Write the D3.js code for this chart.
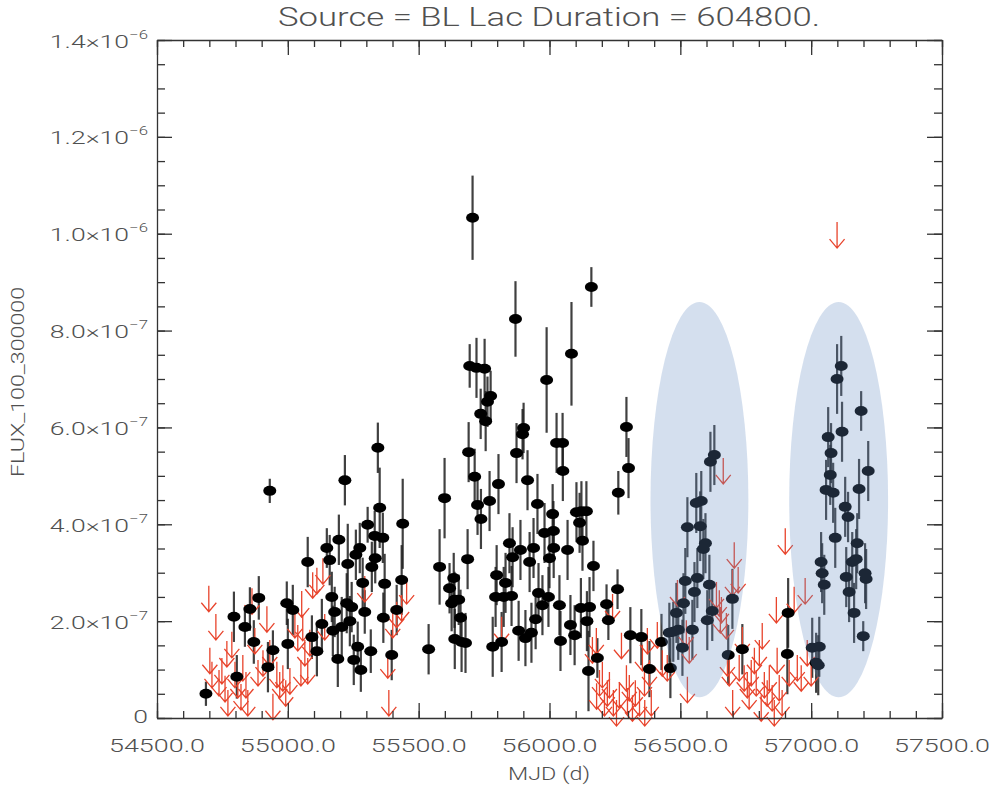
<!DOCTYPE html>
<html><head><meta charset="utf-8">
<script src="https://cdn.jsdelivr.net/npm/d3@7"></script>
<style>body{margin:0;background:#fff}svg{display:block}</style>
</head><body><svg id="c" width="993" height="788"></svg>
<script>
// ---- data (flux in units of 1e-7 ph cm^-2 s^-1) ----
const FLUX_UNIT = 1e-7;
const detMJD = [54687,54794,54805,54836,54855,54889,54870,54931,54924,54943,54996,55019,55000,55076,55092,55111,55130,55149,55160,55168,55172,55179,55191,55195,55206,55218,55225,55229,55237,55244,55252,55260,55267,55275,55279,55286,55294,55305,55317,55321,55332,55334,55344,55351,55363,55365,55370,55397,55416,55435,55439,55538,55580,55599,55618,55626,55637,55634,55653,55660,55638,55664,55679,55687,55691,55695,55706,55714,55721,55725,55737,55738,55752,55756,55763,55775,55771,55783,55794,55798,55805,55817,55825,55832,55847,55855,55859,55870,55874,55882,55889,55897,55901,55908,55916,55924,55931,55939,55947,55954,55958,55973,55981,55989,55996,56000,56012,56015,56016,56027,56050,56051,56038,56042,56069,56080,56084,56096,56103,56115,56122,56141,56126,56120,56143,56153,56149,56160,56168,56183,56218,56225,56263,56260,56294,56302,56309,56351,56382,56428,56462,56458,56473,56492,56485,56508,56512,56519,56527,56546,56554,56561,56580,56565,56576,56596,56588,56603,56611,56615,56630,56622,56699,56683,56737,56909,56912,57004,57031,57019,57027,57038,57042,57050,57057,57065,57076,57073,57084,57092,57099,57115,57118,57130,57141,57134,57145,57157,57164,57172,57176,57183,57191,57199,57206,57210,57218];
const detFlux = [0.50,2.09,0.85,1.88,2.25,2.48,1.57,4.69,1.05,1.40,2.37,2.23,1.53,3.22,1.67,1.38,1.94,3.51,3.26,2.50,1.80,2.19,1.22,3.68,1.88,4.91,2.37,3.18,2.00,2.29,1.20,3.37,1.47,3.51,0.99,2.79,2.19,3.99,1.38,3.12,3.76,3.30,5.58,4.34,3.72,2.07,2.77,1.30,2.23,2.85,4.01,1.42,3.12,4.54,2.68,2.37,2.44,2.89,2.44,2.07,1.63,1.57,1.55,3.28,5.49,7.27,10.33,4.98,7.23,4.40,6.28,4.11,7.21,6.13,6.53,6.65,4.48,1.47,2.50,2.95,4.83,1.57,2.50,2.79,3.61,2.52,3.32,8.24,5.47,1.80,3.47,5.86,5.99,1.65,4.91,3.22,1.76,3.51,2.04,4.42,2.58,2.33,3.82,6.98,2.50,3.30,4.21,3.86,3.51,5.68,5.68,5.10,2.33,1.59,3.47,1.92,7.52,1.71,4.25,4.03,4.27,4.27,3.66,2.27,2.00,2.29,0.97,8.90,3.14,1.24,2.35,2.02,4.65,2.66,6.01,5.16,1.71,1.67,1.01,1.57,1.03,1.76,1.78,1.82,2.17,1.45,2.37,2.83,3.94,1.82,2.60,4.44,4.48,2.89,3.96,3.61,3.49,2.02,2.75,5.29,5.43,2.21,2.46,1.30,1.42,1.32,2.17,1.45,1.47,1.14,1.09,3.22,2.99,2.75,4.71,5.80,5.47,5.02,4.65,3.72,7.00,7.27,5.91,4.36,4.15,2.91,2.60,3.22,2.17,3.28,3.61,4.73,6.34,1.69,2.99,2.87,5.10];
const detErr = [0.25,0.52,0.45,0.41,0.45,0.45,0.45,0.25,0.52,0.41,0.45,0.52,0.52,0.52,0.45,0.52,0.52,0.41,0.52,0.52,0.52,0.52,0.58,0.52,0.62,0.52,0.62,0.83,0.52,0.52,0.52,0.52,0.52,0.52,0.45,0.52,0.45,0.37,0.45,0.52,0.52,0.52,0.52,0.83,0.52,0.52,0.62,0.52,0.52,0.72,0.93,0.52,0.78,0.83,0.52,0.58,0.58,0.52,0.52,0.58,0.62,0.62,0.62,0.62,0.62,0.45,0.87,0.58,0.62,0.62,0.52,0.62,0.62,0.62,0.52,0.52,0.62,0.62,0.62,0.62,0.62,0.62,0.62,0.62,0.62,0.62,0.62,0.78,0.62,0.62,0.62,0.52,0.52,0.58,0.62,0.62,0.62,0.62,0.62,0.62,0.62,0.62,0.62,1.09,0.62,0.62,0.62,0.62,0.62,0.62,0.62,0.62,0.62,0.62,0.62,0.62,1.07,0.62,0.62,0.62,0.62,0.62,0.62,0.62,0.62,0.62,0.83,0.41,0.52,0.41,0.41,0.41,0.45,0.41,0.62,0.62,0.58,0.58,0.58,0.58,0.62,0.62,0.62,0.62,0.62,0.58,0.62,0.68,0.62,0.62,0.62,0.62,0.62,0.62,0.72,0.62,0.62,0.62,0.62,0.62,0.62,0.62,0.62,0.62,0.52,0.83,0.72,0.62,0.62,0.62,0.62,0.62,0.62,0.62,0.62,0.62,0.62,0.62,0.62,0.62,0.72,0.62,0.62,0.62,0.52,0.62,0.62,0.62,0.62,0.62,0.62,0.62,0.41,0.31,0.62,0.62,0.62];
const ulMJD = [54698,54702,54710,54725,54737,54748,54760,54767,54771,54786,54798,54809,54821,54828,54840,54847,54863,54874,54886,54905,54920,54931,54943,54958,54969,54981,54992,55008,55027,55038,55053,55057,55065,55076,55084,55095,55111,55134,55141,55050,55294,55382,55386,55401,55416,55435,55454,55817,56164,56179,56180,56191,56202,56210,56221,56229,56241,56244,56256,56267,56275,56294,56298,56305,56317,56328,56344,56355,56363,56364,56374,56382,56389,56412,56431,56450,56489,56523,56527,56534,56638,56649,56653,56657,56664,56676,56680,56687,56699,56700,56706,56721,56725,56737,56744,56756,56763,56771,56783,56790,56802,56809,56813,56821,56832,56840,56851,56859,56867,56870,56878,56889,56901,56916,56935,56947,56962,56977,56985,57000,57099];
const ulFlux = [2.73,1.45,1.16,2.15,0.99,1.24,0.87,1.59,0.58,1.78,1.16,0.95,0.70,1.30,0.95,0.58,2.68,1.86,1.20,1.40,2.31,1.61,0.50,1.16,0.95,1.09,0.78,1.03,2.19,1.92,2.62,2.13,1.61,1.24,1.82,3.01,3.10,3.30,2.15,1.20,2.93,1.36,0.58,2.19,2.40,2.54,2.89,2.09,1.67,1.86,0.72,0.99,1.16,0.58,0.78,0.95,2.56,0.58,0.37,0.74,1.76,1.09,0.62,0.89,0.47,0.78,0.58,1.51,0.99,0.37,1.86,1.20,0.58,1.98,1.40,1.30,2.85,2.02,0.85,1.67,2.81,2.64,2.29,2.50,5.37,2.17,1.40,1.20,3.06,0.58,3.63,3.12,1.30,1.88,1.09,0.95,0.72,1.20,1.45,0.99,1.61,0.47,1.96,0.95,0.78,1.09,0.68,0.37,2.50,1.45,0.89,0.58,3.92,1.20,2.71,1.30,1.09,2.89,1.61,1.20,10.24];
// highlighted intervals (MJD centre, half width; flux centre, half height)
const hlMJD = [56573, 57105];
const hlHalfMJD = [187, 189];
const hlFlux = [4.51, 4.51];
const hlHalfFlux = [4.08, 4.08];
// axis ticks
const xTickValues = [54500,55000,55500,56000,56500,57000,57500];
const xTickLabels = ["54500.0","55000.0","55500.0","56000.0","56500.0","57000.0","57500.0"];
const yTickValues = [0,2,4,6,8,10,12,14];
const yTickMant = ["0","2.0","4.0","6.0","8.0","1.0","1.2","1.4"];
const yTickExp = ["","\u22127","\u22127","\u22127","\u22127","\u22126","\u22126","\u22126"];
const title = "Source = BL Lac Duration = 604800.";
const xTitle = "MJD (d)";
const yTitle = "FLUX_100_300000";

// ---- drawing ----
const svg = d3.select("#c");
const L=157,R=942,T=40,B=718;
const x = d3.scaleLinear().domain([54500,57500]).range([L,R]);
const y = d3.scaleLinear().domain([0,14*FLUX_UNIT]).range([B,T]);
const TXT = "#505050", AX = "#333";
const font = "Roboto, 'DejaVu Sans', sans-serif";
const FW = 300;

const plot = svg.append("g");
const det = detMJD.map((m,i)=>({m, f:detFlux[i]*FLUX_UNIT, e:detErr[i]*FLUX_UNIT}));
plot.append("g").selectAll("line").data(det).join("line")
  .attr("x1",d=>x(d.m)).attr("x2",d=>x(d.m))
  .attr("y1",d=>y(d.f-d.e)).attr("y2",d=>y(d.f+d.e))
  .attr("stroke","#1e1e1e").attr("stroke-width",2.2).attr("stroke-opacity",0.85);
const ul = ulMJD.map((m,i)=>({m, f:ulFlux[i]*FLUX_UNIT}));
plot.append("g").selectAll("path").data(ul).join("path")
  .attr("d",d=>{const X=x(d.m),Y=y(d.f);return `M${X},${Y}V${Y+26}M${X-7.5},${Y+17}L${X},${Y+26}L${X+7.5},${Y+17}`;})
  .attr("fill","none").attr("stroke","#e8442c").attr("stroke-width",1.3);
plot.append("g").selectAll("ellipse").data(det).join("ellipse")
  .attr("cx",d=>x(d.m)).attr("cy",d=>y(d.f)).attr("rx",6.5).attr("ry",5)
  .attr("fill","#000");
const hl = hlMJD.map((m,i)=>({m,hm:hlHalfMJD[i],f:hlFlux[i]*FLUX_UNIT,hf:hlHalfFlux[i]*FLUX_UNIT}));
svg.append("g").selectAll("ellipse").data(hl).join("ellipse")
  .attr("cx",d=>x(d.m)).attr("cy",d=>y(d.f))
  .attr("rx",d=>x(d.m+d.hm)-x(d.m)).attr("ry",d=>y(d.f-d.hf)-y(d.f))
  .attr("fill","rgb(100,140,195)").attr("fill-opacity",0.28);

// axes
const xMinor = d3.range(54500,57501,100), yMinor = d3.range(0,14.01,0.5).map(v=>v*FLUX_UNIT);
const yMajor = yTickValues.map(v=>v*FLUX_UNIT);
function styleAx(g,keepDomain){ g.selectAll("text").remove(); if(!keepDomain) g.select(".domain").remove();
  g.selectAll("line,path").attr("stroke",AX).attr("stroke-width",1.3); }
svg.append("g").attr("transform",`translate(0,${B})`).call(d3.axisBottom(x).tickValues(xTickValues).tickSize(-15).tickSizeOuter(0)).call(g=>styleAx(g,true));
svg.append("g").attr("transform",`translate(0,${B})`).call(d3.axisBottom(x).tickValues(xMinor).tickSize(-7)).call(g=>styleAx(g,false));
svg.append("g").attr("transform",`translate(0,${T})`).call(d3.axisTop(x).tickValues(xTickValues).tickSize(-15).tickSizeOuter(0)).call(g=>styleAx(g,true));
svg.append("g").attr("transform",`translate(0,${T})`).call(d3.axisTop(x).tickValues(xMinor).tickSize(-7)).call(g=>styleAx(g,false));
svg.append("g").attr("transform",`translate(${L},0)`).call(d3.axisLeft(y).tickValues(yMajor).tickSize(-15).tickSizeOuter(0)).call(g=>styleAx(g,true));
svg.append("g").attr("transform",`translate(${L},0)`).call(d3.axisLeft(y).tickValues(yMinor).tickSize(-8)).call(g=>styleAx(g,false));
svg.append("g").attr("transform",`translate(${R},0)`).call(d3.axisRight(y).tickValues(yMajor).tickSize(-15).tickSizeOuter(0)).call(g=>styleAx(g,true));
svg.append("g").attr("transform",`translate(${R},0)`).call(d3.axisRight(y).tickValues(yMinor).tickSize(-8)).call(g=>styleAx(g,false));

svg.append("g").selectAll("text").data(xTickValues).join("text")
  .attr("x",d=>x(d)).attr("y",752).attr("text-anchor","middle")
  .attr("font-family",font).attr("font-weight",FW).attr("font-size",18.5).attr("fill",TXT)
  .attr("textLength",96).attr("lengthAdjust","spacingAndGlyphs")
  .text((d,i)=>xTickLabels[i]);
const yl = svg.append("g").selectAll("g").data(yTickValues).join("g")
  .attr("transform",d=>`translate(148,${y(d*FLUX_UNIT)+7.5}) scale(1.4,1)`);
yl.each(function(d,i){
  const t = d3.select(this).append("text").attr("text-anchor","end")
    .attr("font-family",font).attr("font-weight",FW).attr("font-size",19).attr("fill",TXT);
  if(yTickExp[i]===""){ t.attr("dy",-3).text(yTickMant[i]); }
  else { t.append("tspan").text(yTickMant[i]+"\u00d710");
         t.append("tspan").attr("dy",-9).attr("font-size",12).text(yTickExp[i]); }
});
svg.append("text").attr("x",549).attr("y",26).attr("text-anchor","middle")
  .attr("font-family",font).attr("font-weight",FW).attr("font-size",26).attr("fill",TXT)
  .attr("textLength",542).attr("lengthAdjust","spacingAndGlyphs").text(title);
svg.append("text").attr("x",549).attr("y",780).attr("text-anchor","middle")
  .attr("font-family",font).attr("font-weight",FW).attr("font-size",18).attr("fill",TXT)
  .attr("textLength",82).attr("lengthAdjust","spacingAndGlyphs").text(xTitle);
svg.append("text").attr("transform","translate(24,382) rotate(-90)").attr("text-anchor","middle")
  .attr("font-family",font).attr("font-weight",FW).attr("font-size",18).attr("fill",TXT)
  .attr("textLength",190).attr("lengthAdjust","spacingAndGlyphs").text(yTitle);
</script></body></html>
